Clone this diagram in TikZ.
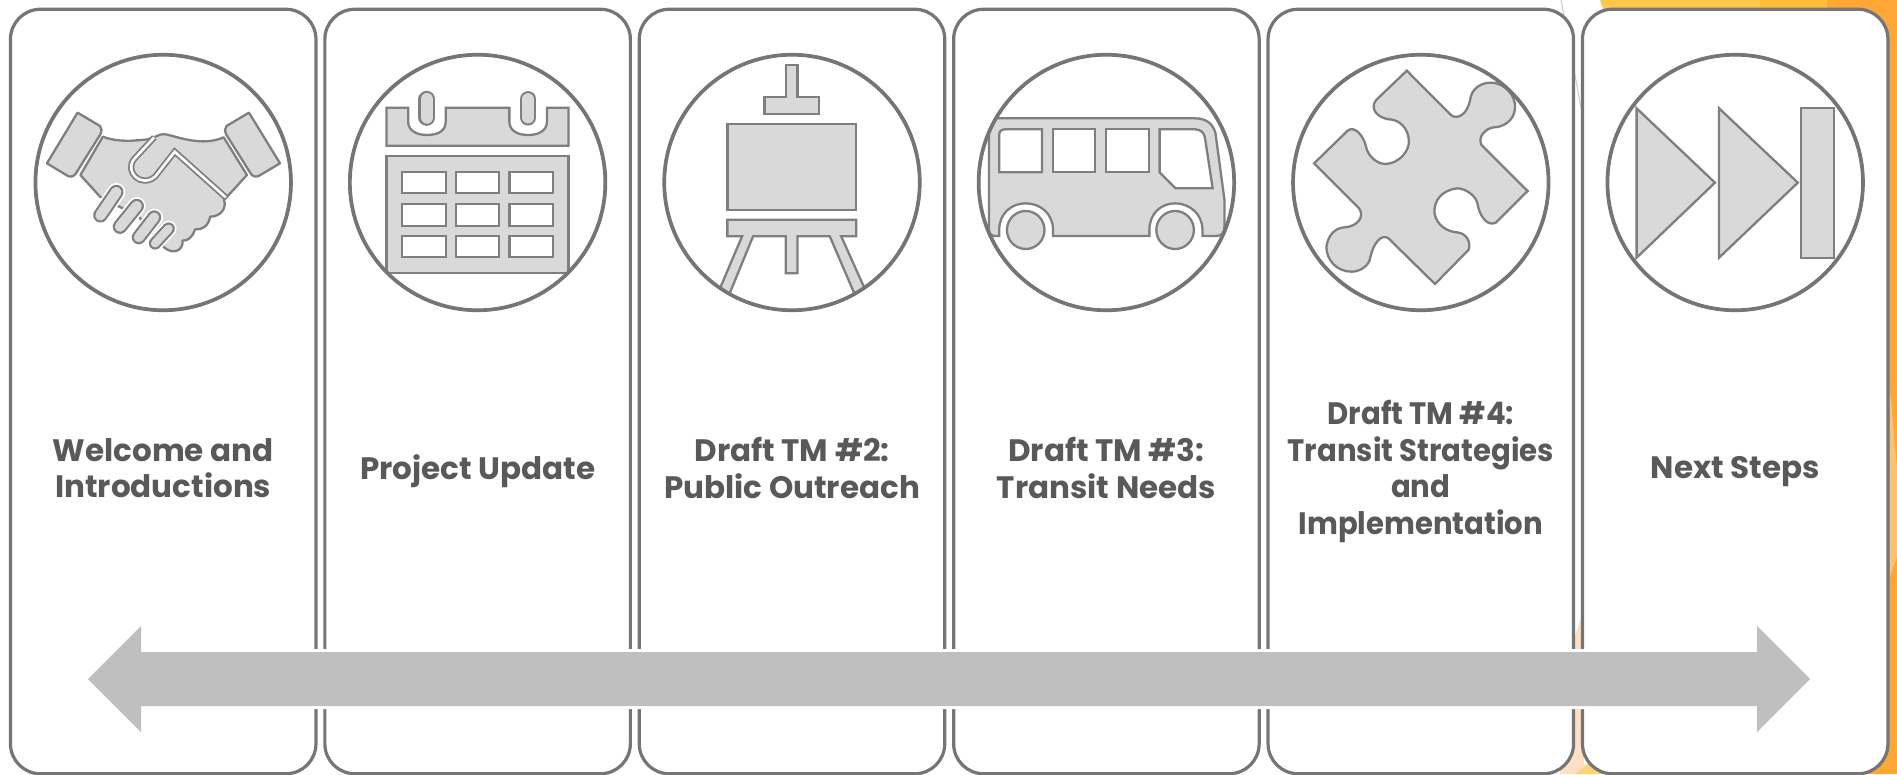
\documentclass[tikz,border=0pt]{standalone}
\usepackage{fontspec}
\setmainfont{Poppins}
\definecolor{ringgray}{HTML}{757575}
\definecolor{icongray}{HTML}{7F7F7F}
\definecolor{iconfill}{HTML}{D9D9D9}
\definecolor{bargray}{HTML}{BFBFBF}
\definecolor{labelgray}{HTML}{595959}
\tikzset{
  panel/.style={rectangle,draw=ringgray,fill=white,line width=3.2pt,rounded corners=30pt,minimum width=305.5pt,minimum height=764.5pt,inner sep=0pt},
  ring/.style={circle,draw=ringgray,fill=white,line width=3.2pt,minimum size=256pt,inner sep=0pt},
  ringline/.style={draw=ringgray,line width=3.2pt},
  label/.style={align=center,text=labelgray,font=\fontsize{31}{36.5}\selectfont\bfseries,inner sep=0pt},
  icon/.style={draw=icongray,fill=iconfill,line width=2.3pt,line join=miter},
  cell/.style={draw=icongray,fill=white,line width=2.3pt},
  zoomcoords/.style={x=0.40816pt,y=-0.33333pt},
}
\newcommand{\capsule}[3]{%
  \draw[white,line width=#3pt+3.5pt,line cap=round] #1 -- #2;
  \draw[icongray,line width=#3pt,line cap=round] #1 -- #2;
  \draw[iconfill,line width=#3pt-4.2pt,line cap=round] #1 -- #2;
}
\begin{document}
\begin{tikzpicture}[x=1pt,y=-1pt]
\useasboundingbox (0,0) rectangle (1897,774);
% background
\fill[white] (0,0) rectangle (1897,774);
\fill[color={rgb,255:red,255;green,200;blue,74}] (1600,0) -- (1760,0) -- (1760,30) -- (1610,30) -- cycle;
\fill[color={rgb,255:red,255;green,190;blue,58}] (1760,0) -- (1827,0) -- (1827,30) -- (1760,30) -- cycle;
\fill[color={rgb,255:red,255;green,166;blue,52}] (1827,0) -- (1897,0) -- (1897,774) -- (1840,774) -- (1840,30) -- (1827,30) -- cycle;
\fill[color={rgb,255:red,255;green,194;blue,112}] (1890,389) -- (1897,468) -- (1897,557) -- (1890,576) -- cycle;
\fill[color={rgb,255:red,255;green,224;blue,196}] (1570,650) -- (1584,610) -- (1584,774) -- (1560,774) -- cycle;
\fill[color={rgb,255:red,255;green,212;blue,120}] (1590,762) -- (1575,774) -- (1604,774) -- cycle;
\draw[color={rgb,255:red,204;green,204;blue,204},line width=1pt] (1561,0) -- (1582,113);
% panels
\foreach \i/\cx in {1/163.2,2/477.6,3/792,4/1106.4,5/1420.8,6/1735.2}{
  \node[panel] (b\i) at (\cx,391.5) {};
  \node[ring] (c\i) at (\cx,182.5) {};
}
% handshake
\begin{scope}
\clip (c1) circle[radius=127pt];
\begin{scope}[zoomcoords]
\draw[icon,line join=round] (190,338) -- (245,378) .. controls (250,385) and (250,395) .. (246,403) -- (186,520) .. controls (182,530) and (172,532) .. (165,527) -- (115,490) -- cycle;
\draw[icon,line join=round] (610,338) -- (686,490) -- (635,527) .. controls (628,532) and (618,530) .. (614,520) -- (554,403) .. controls (550,395) and (550,385) .. (555,378) -- cycle;
\draw[icon,line join=round] (252,410) .. controls (290,428) and (330,422) .. (362,418) -- (385,408) .. controls (395,400) and (405,402) .. (420,407) .. controls (470,425) and (510,432) .. (548,412) -- (605,525) -- (555,592) -- (549,600) .. controls (556,625) and (540,650) .. (515,650) .. controls (510,680) and (495,690) .. (478,688) .. controls (470,715) and (460,722) .. (447,722) .. controls (450,750) and (425,768) .. (400,740) -- (340,650) -- (245,590) -- (197,525) -- cycle;
\draw[icongray,double=white,double distance=2.6pt,line width=1.8pt] (378,412) -- (328,478) .. controls (305,515) and (345,565) .. (380,530) -- (428,455) -- (553,592);
\capsule{(413,686)}{(380,730)}{12.5}
\capsule{(378,652)}{(340,712)}{14}
\capsule{(335,618)}{(294,680)}{14.5}
\capsule{(285,576)}{(246,646)}{14.5}
\end{scope}
\end{scope}
% calendar
\begin{scope}
\clip (c2) circle[radius=127pt];
\begin{scope}[zoomcoords]
\draw[icon] (947,323) -- (1000,323) -- (1000,365) .. controls (1000,395) and (1025,405) .. (1046,405) .. controls (1070,405) and (1092,395) .. (1092,365) -- (1092,323) -- (1248,323) -- (1248,365) .. controls (1248,395) and (1272,405) .. (1294,405) .. controls (1316,405) and (1340,395) .. (1340,365) -- (1340,323) -- (1393,323) -- (1393,437) -- (947,437) -- cycle;
\capsule{(1046,298)}{(1046,352)}{17}
\capsule{(1294,298)}{(1294,352)}{16.5}
\draw[icon] (947,467) rectangle (1393,820);
\foreach \xa/\xb in {985/1092,1117/1223,1248/1355}
  \foreach \ya/\yb in {515/580,611/677,707/772}
    \draw[cell] (\xa,\ya) rectangle (\xb,\yb);
\end{scope}
\end{scope}
% easel
\begin{scope}
\clip (c3) circle[radius=127pt];
\begin{scope}[zoomcoords,xshift=640pt]
\draw[icon] (357,195) -- (386,195) -- (386,292) -- (438,292) -- (438,342) -- (305,342) -- (305,292) -- (357,292) -- cycle;
\draw[icon] (214,371) rectangle (530,630);
\draw[icon] (214,659) -- (530,659) -- (530,709) -- (493,709) -- (563,900) -- (532,900) -- (465,709) -- (386,709) -- (386,820) -- (357,820) -- (357,709) -- (277,709) -- (213,900) -- (184,900) -- (250,709) -- (214,709) -- cycle;
\end{scope}
\end{scope}
% bus
\begin{scope}
\clip (c4) circle[radius=127pt];
\begin{scope}[zoomcoords,xshift=640pt]
\draw[icon] (855,355) -- (1360,355) .. controls (1390,355) and (1405,375) .. (1410,400) -- (1432,600) -- (1432,680) .. controls (1432,700) and (1425,708) .. (1410,708) -- (1378,708) -- (1378,690) .. controls (1378,640) and (1345,610) .. (1311,610) .. controls (1277,610) and (1248,640) .. (1248,690) -- (1248,708) -- (1012,708) -- (1012,690) .. controls (1012,640) and (980,610) .. (945,610) .. controls (910,610) and (880,640) .. (880,690) -- (880,708) -- (870,708) .. controls (860,708) and (855,700) .. (855,690) -- cycle;
\draw[cell] (880,517) -- (880,405) .. controls (880,394) and (885,388) .. (895,388) -- (985,388) -- (985,517) -- cycle;
\draw[cell] (1011,388) rectangle (1115,517);
\draw[cell] (1142,388) rectangle (1247,517);
\draw[cell] (1273,388) -- (1360,388) .. controls (1375,388) and (1384,400) .. (1385,420) -- (1403,565) -- (1312,565) -- (1273,517) -- cycle;
\draw[icon] (945,690) ellipse[x radius=46,y radius=57];
\draw[icon] (1311,690) ellipse[x radius=46,y radius=57];
\end{scope}
\end{scope}
% puzzle piece
\begin{scope}
\clip (c5) circle[radius=127pt];
\begin{scope}[zoomcoords,xshift=1257pt]
\draw[icon] (367,212) -- (475,345) .. controls (490,360) and (515,345) .. (522,300) .. controls (525,265) and (550,248) .. (572,248) .. controls (610,248) and (635,290) .. (632,325) .. controls (630,365) and (600,382) .. (580,382) .. controls (560,385) and (540,410) .. (550,435) -- (663,573) -- (585,668) .. controls (565,680) and (545,650) .. (540,610) .. controls (535,585) and (510,565) .. (490,565) .. controls (455,570) and (432,600) .. (435,640) .. controls (440,675) and (465,695) .. (490,697) .. controls (515,700) and (525,730) .. (518,750) -- (436,852) -- (322,715) .. controls (305,700) and (285,730) .. (278,770) .. controls (275,800) and (250,815) .. (232,815) .. controls (195,815) and (170,780) .. (170,740) .. controls (175,700) and (195,683) .. (215,682) .. controls (245,680) and (265,650) .. (250,625) -- (140,490) -- (222,392) .. controls (240,375) and (262,410) .. (267,440) .. controls (272,470) and (295,492) .. (315,492) .. controls (350,490) and (375,450) .. (372,420) .. controls (370,385) and (350,360) .. (325,358) .. controls (295,355) and (275,325) .. (292,300) -- cycle;
\end{scope}
\end{scope}
% skip forward
\begin{scope}
\clip (c6) circle[radius=127pt];
\begin{scope}[zoomcoords,xshift=1257pt]
\draw[icon] (930,325) -- (1122,548) -- (930,773) -- cycle;
\draw[icon] (1132,325) -- (1325,548) -- (1132,773) -- cycle;
\draw[icon] (1333,325) rectangle (1413,773);
\end{scope}
\end{scope}
% ring outlines over the icons
\foreach \i in {1,...,6}{\draw[ringline] (c\i) circle[radius=127.5pt];}
% labels
\node[label] (t1) at (163.2,468) {Welcome and\\Introductions};
\node[label] (t2) at (477.6,471.5) {Project Update};
\node[label] (t3) at (792,468) {Draft TM \#2:\\Public Outreach};
\node[label] (t4) at (1106.4,468) {Draft TM \#3:\\Transit Needs};
\node[label,transform shape,xscale=0.94] (t5) at (1420.8,471.5) {Draft TM \#4:\\Transit Strategies\\and\\Implementation};
\node[label] (t6) at (1735.2,471.5) {Next Steps};
% double arrow
\draw[white,line width=6pt,line join=miter] (88,679) -- (141,626) -- (141,652) -- (1757,652) -- (1757,626) -- (1810,679) -- (1757,732) -- (1757,706) -- (141,706) -- (141,732) -- cycle;
\fill[bargray] (88,679) -- (141,626) -- (141,652) -- (1757,652) -- (1757,626) -- (1810,679) -- (1757,732) -- (1757,706) -- (141,706) -- (141,732) -- cycle;
\end{tikzpicture}
\end{document}
